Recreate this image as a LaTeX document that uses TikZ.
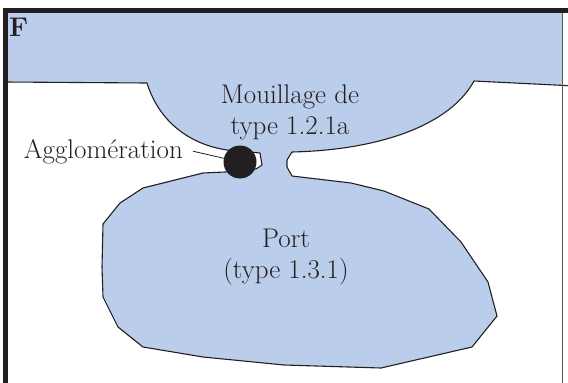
\documentclass[tikz,border=0pt]{standalone}
\usetikzlibrary{positioning}

\definecolor{seablue}{RGB}{186,205,234}
\definecolor{inkblack}{RGB}{35,31,32}

\begin{document}
\begin{tikzpicture}[x=1pt,y=-1pt,
    coast/.style={draw=inkblack,line width=1.1pt,line join=round},
    maptext/.style={inner sep=0pt,text=inkblack,font=\fontsize{27}{31}\selectfont},
    leader/.style={draw=inkblack,line width=0.8pt}]

  \useasboundingbox (0,0) rectangle (568,383);

  % sea, channel and port
  \fill[seablue] (7,13) rectangle (562,390);

  % the land round them
  \path[coast,fill=white] (5,82) -- (147,83)
      .. controls (160,125) and (195,148) .. (236,151)
      -- (260,153) -- (262,165) -- (256,169) -- (225,172) -- (203,173)
      -- (143,188) -- (120,203) -- (103,224) -- (102,267) -- (103,297)
      -- (118,327) -- (143,347) -- (203,357) -- (284,365) -- (381,368)
      -- (472,347) -- (497,316) -- (488,282) -- (461,242) -- (429,209)
      -- (384,191) -- (351,183) -- (292,176) -- (287,167) -- (287,160)
      -- (292,152) .. controls (380,150) and (450,125) .. (474,81)
      -- (575,86) -- (575,390) -- (5,390) -- cycle;

  % frame
  \draw[inkblack,line width=4.5pt] (5.4,390) -- (5.4,10.5) -- (575,10.5);
  \draw[gray!70!black,line width=0.8pt] (562,12.7) -- (562,390);

  % the town
  \node[circle,fill=inkblack,minimum size=33pt,inner sep=0pt] (ville) at (240,162) {};

  % labels
  \node[maptext,font=\fontsize{27}{31}\selectfont\bfseries,anchor=base west] (zone) at (9,36) {F};
  \node[maptext,align=center] (mouillage) at (290,112) {Mouillage de\\type 1.2.1a};
  \node[maptext,align=center] (port) at (286,257) {Port\\(type 1.3.1)};
  \node[maptext,anchor=base east] (agglo) at (183,158) {Agglomération};

  \draw[leader] ([xshift=10pt]agglo.east) -- (ville);

\end{tikzpicture}
\end{document}
